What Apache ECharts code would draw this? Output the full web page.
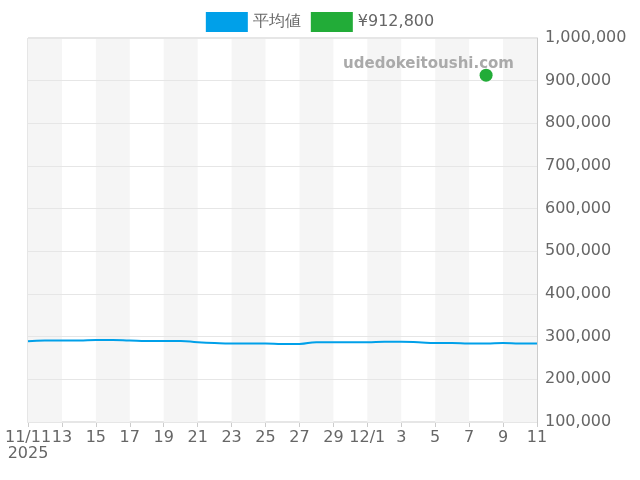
<!DOCTYPE html>
<html><head><meta charset="utf-8">
<script src="https://cdn.jsdelivr.net/npm/echarts@6/dist/echarts.min.js"></script>
<style>html,body{margin:0;padding:0;}#c{width:640px;height:480px;}</style>
</head><body><div id="c"></div>
<script>
const categories = ["11/11","12","13","14","15","16","17","18","19","20","21","22","23","24","25","26","27","28","29","30","12/1","2","3","4","5","6","7","8","9","10","11"];
const avgValues = [289000,291000,291000,291000,292000,292000,291000,290000,290000,290000,287000,285000,284000,284000,284000,283000,283000,287000,287000,287000,287000,288000,288000,287000,285000,285000,284000,284000,285000,284000,284000];
const pointValues = categories.map((c,i)=> i===27 ? 912800 : null);
const yTicks = {min:100000, max:1000000, interval:100000};
const chart = echarts.init(document.getElementById('c'));
const F = 'DejaVu Sans';
chart.setOption({
  animation:false,
  textStyle:{fontFamily:F},
  legend:{top:7, left:'center', itemWidth:42, itemHeight:20, itemGap:10, icon:'rect',
    textStyle:{fontSize:16,color:'#666',fontFamily:F},
    data:['平均値','¥912,800']},
  grid:{left:28, right:103, top:38, bottom:58, show:true, borderColor:'#ccc', borderWidth:1},
  graphic:[{type:'text', right:126, top:57, z:100, style:{text:'udedokeitoushi.com', fontSize:15, fontWeight:'bold', fill:'#aaa', fontFamily:F}}],
  xAxis:{type:'category', data:categories, boundaryGap:false,
    axisLine:{lineStyle:{color:'#ccc'}}, axisTick:{show:true, interval:1, lineStyle:{color:'#ccc'}},
    axisLabel:{interval:1, fontSize:16, color:'#666', fontFamily:F, formatter:(v,i)=> i===0 ? v+'\n2025' : v},
    splitLine:{show:false},
    splitArea:{show:true, interval:1, areaStyle:{color:['#f5f5f5','rgba(255,255,255,0)']}}},
  yAxis:{type:'value', position:'right', min:yTicks.min, max:yTicks.max, interval:yTicks.interval, z:5,
    axisLine:{show:true, lineStyle:{color:'#ccc'}},
    axisLabel:{fontSize:16, color:'#666', fontFamily:F, formatter:v=>v.toLocaleString('en-US')},
    splitLine:{show:true, lineStyle:{color:'#e6e6e6'}}},
  series:[
    {name:'平均値', type:'line', data:avgValues, showSymbol:false, smooth:true, color:'#00a0e9', itemStyle:{color:'#00a0e9'}, lineStyle:{width:2, color:'#00a0e9'}, z:10},
    {name:'¥912,800', type:'scatter', data:pointValues, symbolSize:13, color:'#22ac38', itemStyle:{color:'#22ac38', opacity:1}, z:10}
  ]
});
</script></body></html>
